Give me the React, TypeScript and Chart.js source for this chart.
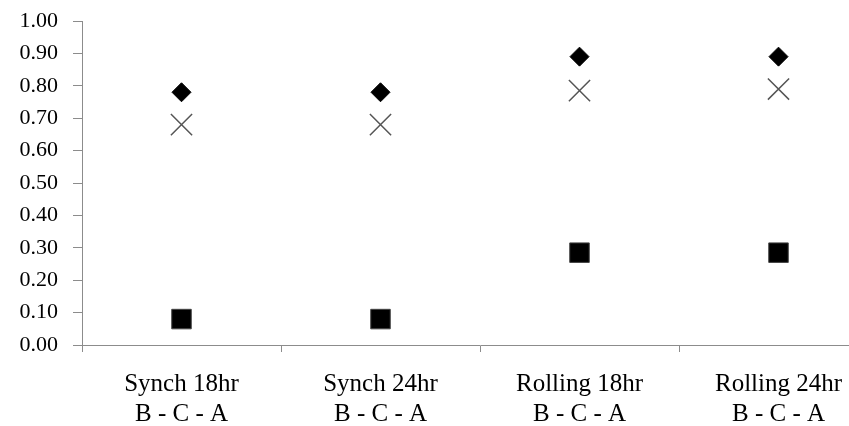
import React, { useEffect, useRef } from "react";
import { Chart, registerables } from "chart.js";

Chart.register(...registerables);

const categories: string[][] = [
  ["Synch 18hr", "B - C - A"],
  ["Synch 24hr", "B - C - A"],
  ["Rolling 18hr", "B - C - A"],
  ["Rolling 24hr", "B - C - A"],
];
const diamondValues = [0.78, 0.78, 0.89, 0.89];
const crossValues = [0.68, 0.68, 0.785, 0.79];
const squareValues = [0.08, 0.08, 0.285, 0.285];

const FONT = "'Liberation Serif', 'Times New Roman', serif";

export default function App() {
  const ref = useRef<HTMLCanvasElement | null>(null);
  useEffect(() => {
    document.body.style.margin = "0";
    const ctx = ref.current!;
    const chart = new Chart(ctx, {
      type: "line",
      data: {
        labels: categories,
        datasets: [
          {
            label: "diamond",
            data: diamondValues,
            showLine: false,
            pointStyle: "rectRot",
            pointRadius: 9.5,
            pointBackgroundColor: "#000",
            pointBorderColor: "#000",
            pointBorderWidth: 1,
          },
          {
            label: "cross",
            data: crossValues,
            showLine: false,
            pointStyle: "crossRot",
            pointRadius: 15,
            pointBackgroundColor: "#555",
            pointBorderColor: "#555",
            pointBorderWidth: 1.5,
          },
          {
            label: "square",
            data: squareValues,
            showLine: false,
            pointStyle: "rect",
            pointRadius: 13.8,
            pointBackgroundColor: "#000",
            pointBorderColor: "#444",
            pointBorderWidth: 1,
          },
        ],
      },
      options: {
        responsive: false,
        animation: false,
        events: [],
        layout: { autoPadding: false, padding: { top: 21, left: 0, right: 0, bottom: 0 } },
        plugins: { legend: { display: false }, tooltip: { enabled: false } },
        scales: {
          x: {
            type: "category",
            offset: true,
            grid: {
              offset: true,
              drawOnChartArea: false,
              drawTicks: true,
              tickLength: 7,
              color: "#8c8c8c",
            },
            border: { display: true, color: "#8c8c8c", width: 1 },
            ticks: {
              color: "#000",
              padding: 17,
              maxRotation: 0,
              autoSkip: false,
              font: { family: FONT, size: 25, lineHeight: 1.2 },
            },
            afterFit: (scale: any) => {
              scale.height = 81;
              scale.paddingLeft = 0;
              scale.paddingRight = 0;
            },
          },
          y: {
            min: 0,
            max: 1,
            grid: {
              drawOnChartArea: false,
              drawTicks: true,
              tickLength: 9,
              color: "#8c8c8c",
            },
            border: { display: true, color: "#8c8c8c", width: 1 },
            ticks: {
              stepSize: 0.1,
              color: "#000",
              padding: 15,
              font: { family: FONT, size: 22 },
              callback: (v: any) => Number(v).toFixed(2),
            },
            afterFit: (scale: any) => {
              scale.width = 82;
              scale.paddingTop = 0;
              scale.paddingBottom = 0;
            },
          },
        },
      },
    });
    return () => chart.destroy();
  }, []);
  return (
    <div
      style={{
        position: "fixed",
        left: 0,
        top: 0,
        width: 849,
        height: 426,
        overflow: "hidden",
        background: "#fff",
      }}
    >
      <canvas ref={ref} width={878} height={426} style={{ width: 878, height: 426 }} />
    </div>
  );
}
